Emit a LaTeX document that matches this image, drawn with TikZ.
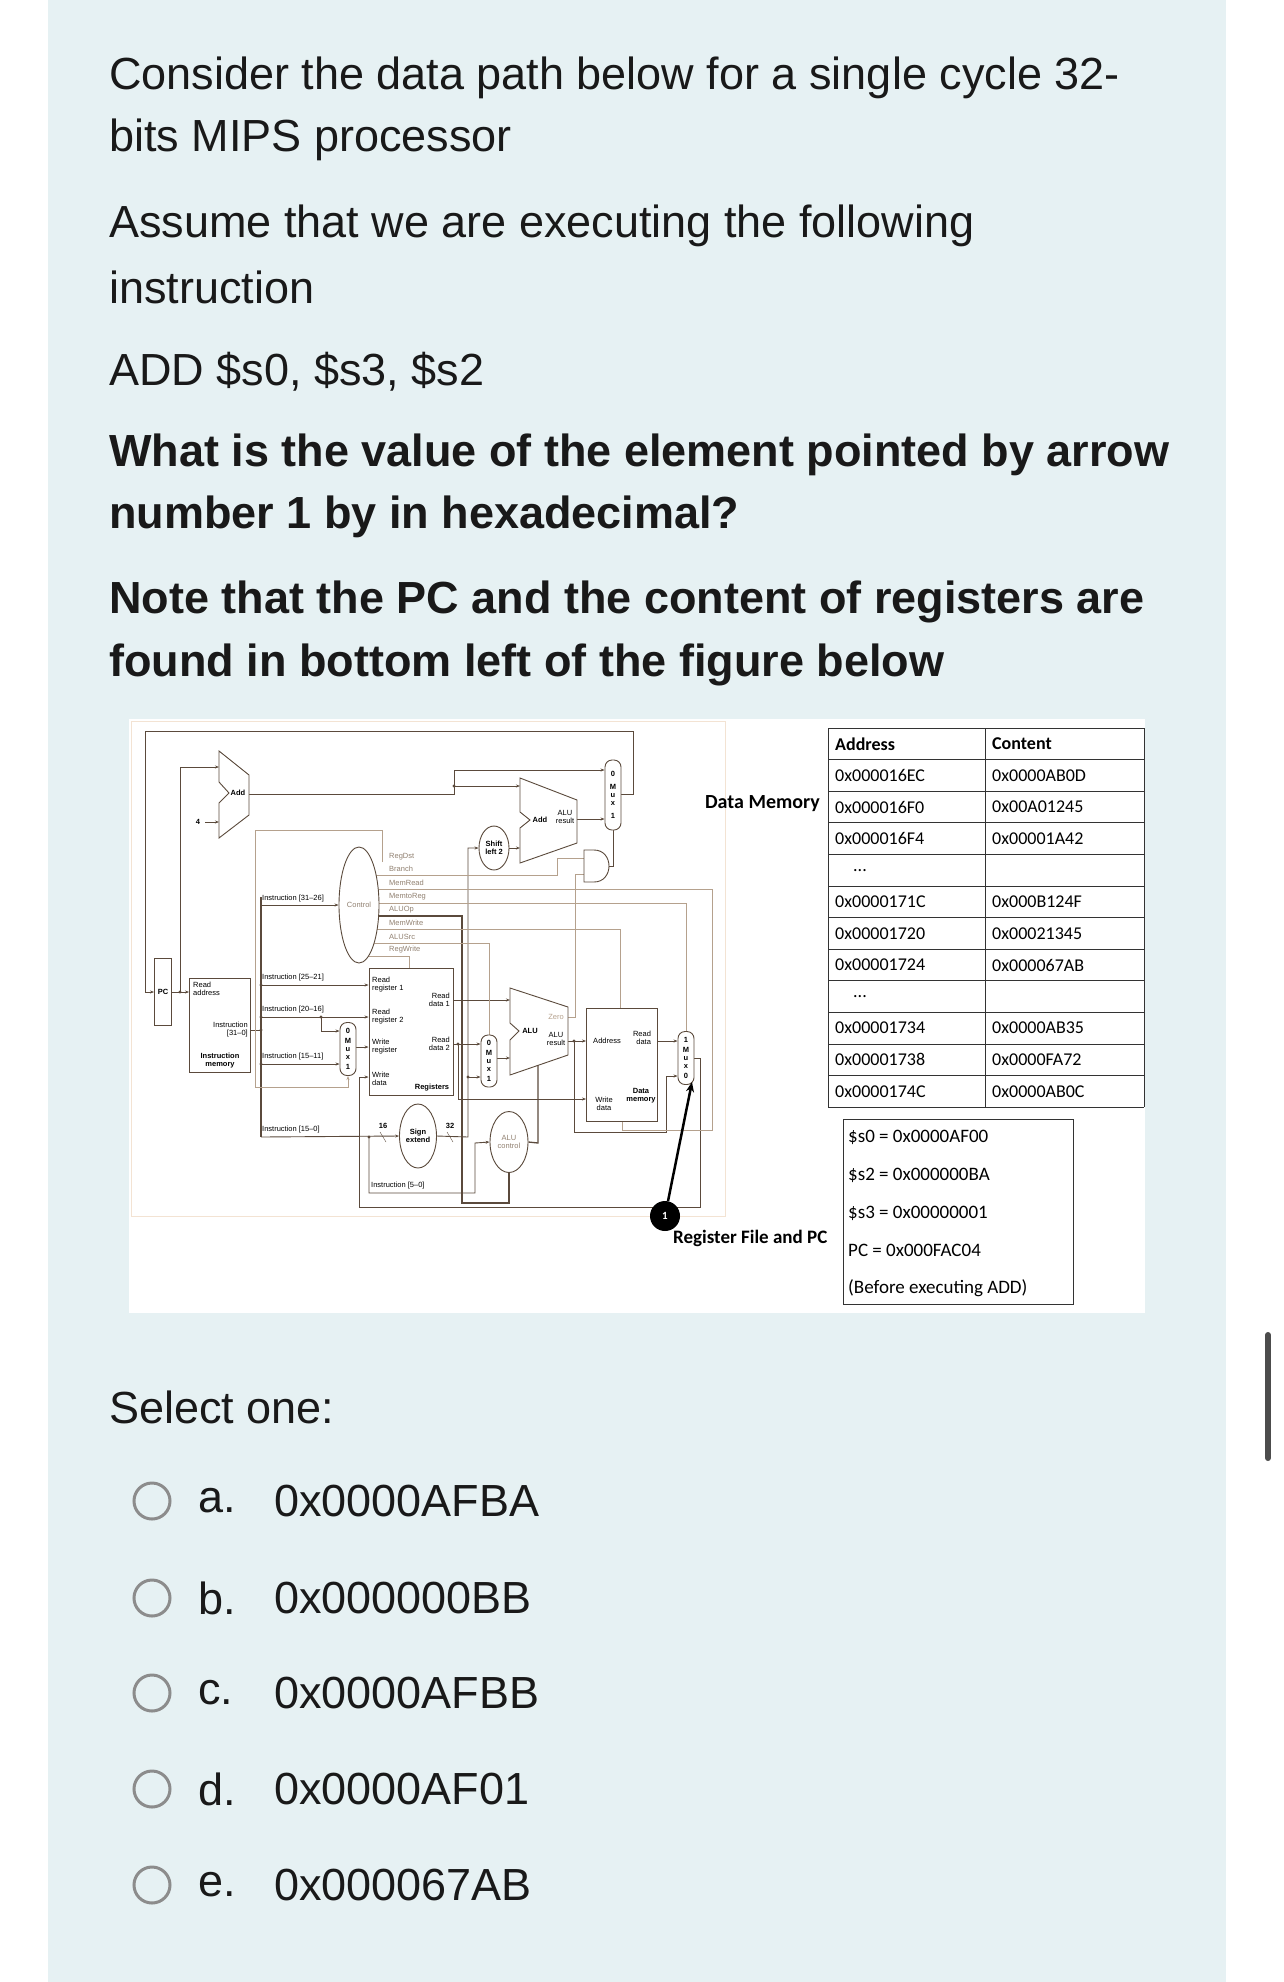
\documentclass[tikz,border=0pt]{standalone}
\usepackage{fontspec}
\setmainfont{Liberation Sans}
\newfontfamily\tabfont{Carlito}
\usetikzlibrary{arrows.meta,backgrounds,shapes.geometric}
\definecolor{panel}{HTML}{E6F1F3}
\definecolor{wirec}{HTML}{5B4A3C}
\definecolor{ctlc}{HTML}{B5A18D}
\definecolor{framec}{HTML}{F3E3D3}
\newcommand{\dpfont}{\fontsize{7.5}{8}\selectfont}
\newcommand{\bigfont}{\fontsize{45}{54}\selectfont}
\tikzset{
  wire/.style={draw=wirec, line width=0.9pt},
  ctl/.style={draw=ctlc, line width=0.9pt},
  arr/.style={-{Stealth[length=4pt,width=3pt]}},
  jdot/.style={circle, fill=wirec, inner sep=1.2pt},
  unit/.style={draw=wirec, line width=0.9pt, fill=white},
  mux/.style={draw=wirec, line width=0.9pt, fill=white, rounded corners=7pt,
    minimum width=16pt, inner sep=0pt, font=\dpfont\bfseries, align=center},
  lbl/.style={font=\dpfont, inner sep=0pt, align=left},
  ctllbl/.style={font=\dpfont, text=ctlc!80!black, inner sep=0pt, anchor=west},
  qtext/.style={font=\bigfont, anchor=west, inner sep=0pt, text=black!90},
  cell/.style={font=\tabfont\fontsize{18}{20}\selectfont, anchor=west, inner sep=0pt},
  radio/.style={circle, draw=black!45, line width=3pt, minimum size=36pt, inner sep=0pt}
}
\begin{document}
\begin{tikzpicture}[x=1pt, y=-1pt]
\useasboundingbox (0,0) rectangle (1284,1982);
\begin{scope}[on background layer]
\fill[panel] (48,0) rectangle (1226,1982);
\fill[white] (129,719) rectangle (1145,1313);
\draw[framec, line width=1pt] (131,721) rectangle (725,1216);
\end{scope}
% scroll bar
\draw[black!70, line width=6pt, line cap=round] (1268,1335) -- (1268,1458);

% question text
\node[qtext] (q1) at (109,78) {Consider the data path below for a single cycle 32-};
\node[qtext] (q2) at (109,140) {bits MIPS processor};
\node[qtext] (q3) at (109,226) {Assume that we are executing the following};
\node[qtext] (q4) at (109,287) {instruction};
\node[qtext] (q5) at (109,372) {ADD \$s0, \$s3, \$s2};
\node[qtext, font=\bigfont\bfseries] (q6) at (109,455) {What is the value of the element pointed by arrow};
\node[qtext, font=\bigfont\bfseries] (q7) at (109,517) {number 1 by in hexadecimal?};
\node[qtext, font=\bigfont\bfseries] (q8) at (109,602) {Note that the PC and the content of registers are};
\node[qtext, font=\bigfont\bfseries] (q9) at (109,665) {found in bottom left of the figure below};

% ---- datapath units
\node[unit, minimum width=17pt, minimum height=67pt] (pc) at (163,992) {};
\node[lbl, font=\dpfont\bfseries] at (pc) {PC};
\node[unit, minimum width=61pt, minimum height=94pt] (imem) at (220,1025) {};
\node[lbl, anchor=north west] at (193,982) {Read\\address};
\node[lbl, anchor=east, align=right] at (248,1030) {Instruction\\{}[31--0]};
\node[lbl, font=\dpfont\bfseries, align=center] at (220,1061) {Instruction\\memory};
\node[unit, minimum width=84pt, minimum height=127pt] (regs) at (411,1032) {};
\node[lbl, anchor=west] at (372,985) {Read\\register 1};
\node[lbl, anchor=west] at (372,1017) {Read\\register 2};
\node[lbl, anchor=west] at (372,1047) {Write\\register};
\node[lbl, anchor=west] at (372,1079) {Write\\data};
\node[lbl, anchor=east, align=right] at (450,1000) {Read\\data 1};
\node[lbl, anchor=east, align=right] at (450,1044) {Read\\data 2};
\node[lbl, font=\dpfont\bfseries] at (432,1088) {Registers};
\node[unit, minimum width=71pt, minimum height=113pt] (dmem) at (622,1065) {};
\node[lbl] at (607,1041) {Address};
\node[lbl, align=right] at (642,1038) {Read\\data};
\node[lbl, align=center] at (604,1104) {Write\\data};
\node[lbl, font=\dpfont\bfseries, align=center] at (641,1096) {Data\\memory};

% adders and ALU
\draw[unit] (219,751) -- (249,775) -- (249,815) -- (219,838) -- (219,803) -- (229,793) -- (219,782) -- cycle;
\node[lbl, font=\dpfont\bfseries] (addpc) at (238,793) {Add};
\draw[unit] (520,778) -- (577,800) -- (577,843) -- (520,863) -- (520,828) -- (530,820) -- (520,812) -- cycle;
\node[lbl, font=\dpfont\bfseries] (addbr) at (540,820) {Add};
\node[lbl, align=center] at (565,817) {ALU\\result};
\draw[unit] (510,988) -- (568,1007) -- (568,1055) -- (510,1075) -- (510,1040) -- (519,1031) -- (510,1023) -- cycle;
\node[lbl, font=\dpfont\bfseries] (alu) at (530,1031) {ALU};
\node[lbl, align=center] at (556,1039) {ALU\\result};
\node[lbl, text=ctlc] at (556,1017) {Zero};
\draw[unit] (584,850) -- (594,850) .. controls (614,850) and (614,882) .. (594,882) -- (584,882) -- cycle;

% ellipses
\node[unit, ellipse, minimum width=40pt, minimum height=116pt, inner sep=0pt] (ctrl) at (359,905) {};
\node[lbl, text=ctlc!80!black] at (ctrl) {Control};
\node[unit, ellipse, minimum width=30pt, minimum height=44pt, inner sep=0pt, font=\dpfont\bfseries, align=center] (shl) at (494,848) {Shift\\left 2};
\node[unit, ellipse, minimum width=37pt, minimum height=64pt, inner sep=0pt, font=\dpfont\bfseries, align=center] (sext) at (418,1136) {Sign\\extend};
\node[unit, ellipse, minimum width=38pt, minimum height=61pt, inner sep=0pt, font=\dpfont, text=ctlc!80!black, align=center] (aluc) at (509,1142) {ALU\\control};

% muxes
\node[mux, minimum height=70pt] (muxpc) at (613,795) {0\\[5pt]M\\u\\x\\[5pt]1};
\node[mux, minimum height=53pt] (muxreg) at (348,1049) {0\\[2pt]M\\u\\x\\[2pt]1};
\node[mux, minimum height=52pt] (muxalu) at (489,1061) {0\\[2pt]M\\u\\x\\[2pt]1};
\node[mux, minimum height=53pt] (muxmem) at (686,1058) {1\\[2pt]M\\u\\x\\[2pt]0};

% control labels
\foreach \t/\yy in {RegDst/857, Branch/869, MemRead/883, MemtoReg/897, ALUOp/910, MemWrite/923, ALUSrc/937, RegWrite/950}
  \node[ctllbl] at (389,\yy) {\t};

\begin{scope}[on background layer]
% main wires
\draw[wire, arr] (pc.east |- 0,992) -- (imem.west |- 0,992);
\draw[wire, arr] (180,992) -- (180,767) -- (219,767);
\draw[wire, arr] (621,794) -- (633,794) -- (633,731) -- (145,731) -- (145,992) -- (pc.west |- 0,992);
\draw[wire, arr] (205,822) -- (219,822);
\draw[wire, arr] (249,794) -- (454,794) -- (454,770) -- (muxpc.west |- 0,770);
\draw[wire, arr] (454,786) -- (520,786);
\draw[wire, arr] (577,819) -- (muxpc.west |- 0,819);
\draw[wire, arr] (shl.east) -- (520,848);
\draw[wire] (609,866) -| (muxpc.south);
\draw[wire] (imem.east |- 0,1030) -- (261,1030);
\draw[wire, line width=1.3pt] (261,897) -- (261,1137);
\draw[wire, arr] (261,905) -- (ctrl.west);
\draw[wire, arr] (261,985) -- (regs.west |- 0,985);
\draw[wire, arr] (261,1017) -- (regs.west |- 0,1017);
\draw[wire, arr] (321,1017) -- (321,1031) -- (muxreg.west |- 0,1031);
\draw[wire, arr] (261,1064) -- (muxreg.west |- 0,1064);
\draw[wire, arr] (muxreg.east |- 0,1047) -- (regs.west |- 0,1047);
\draw[wire, arr] (261,1137) -- (sext.west);
\draw[wire, arr] (regs.east |- 0,1000) -- (510,1000);
\draw[wire, arr] (regs.east |- 0,1044) -- (muxalu.west |- 0,1044);
\draw[wire, arr] (458,1044) -- (458,1099) -- (dmem.west |- 0,1099);
\draw[wire, arr] (muxalu.east |- 0,1058) -- (510,1058);
\draw[wire, arr] (sext.east) -- (468,1137) -- (468,848) -- (shl.west);
\draw[wire, arr] (468,1077) -- (muxalu.west |- 0,1077);
\draw[wire, arr] (568,1041) -- (dmem.west |- 0,1041);
\draw[wire, arr] (574,1041) -- (574,1132) -- (666,1132) -- (666,1076) -- (muxmem.west |- 0,1076);
\draw[wire, arr] (dmem.east |- 0,1041) -- (muxmem.west |- 0,1041);
\draw[wire, arr] (muxmem.east) -- (700,1058) -- (700,1207) -- (359,1207) -- (359,1077) -- (regs.west |- 0,1077);
\draw[wire, arr] (369,1137) -- (369,1193) -- (475,1193) -- (475,1143) -- (aluc.west);
\draw[wire, line width=1.6pt] (ctrl.center |- 0,916) -- (462,916) -- (462,1203) -- (509,1203) -- (aluc.south);
\draw[wire, line width=1.3pt] (aluc.east) -- (538,1143) -- (538,1065);
% control wires
\draw[ctl, arr] (382,862) -- (382,830) -- (255,830) -- (255,1087) -- (348,1087) -- (muxreg.south);
\draw[ctl] (ctrl.center |- 0,875) -- (557,875) -- (557,858) -- (584,858);
\draw[ctl] (568,1017) -- (575,1017) -- (575,874) -- (584,874);
\draw[ctl] (ctrl.center |- 0,889) -- (712,889) -- (712,1130) -- (622,1130) -- (dmem.south);
\draw[ctl] (ctrl.center |- 0,903) -- (686,903) -- (muxmem.north);
\draw[ctl] (ctrl.center |- 0,929) -- (620,929) -- (620,1009);
\draw[ctl] (ctrl.center |- 0,943) -- (489,943) -- (muxalu.north);
\draw[ctl] (ctrl.center |- 0,956) -- (409,956) -- (409,968);
\end{scope}
\foreach \p in {(180,992),(261,985),(261,1017),(261,1030),(261,1064),(321,1017),(369,1137),(454,786),(458,1044),(468,1077),(574,1041)}
  \node[jdot] at \p {};

% bus labels
\node[lbl, anchor=south west] at (262,902) {Instruction [31--26]};
\node[lbl, anchor=south west] at (262,981) {Instruction [25--21]};
\node[lbl, anchor=south west] at (262,1013) {Instruction [20--16]};
\node[lbl, anchor=south west] at (262,1060) {Instruction [15--11]};
\node[lbl, anchor=south west] at (262,1133) {Instruction [15--0]};
\node[lbl, anchor=south west] at (371,1189) {Instruction [5--0]};
\node[lbl, font=\dpfont\bfseries] at (198,822) {4};
\node[lbl, font=\dpfont\bfseries] at (383,1126) {16};
\node[lbl, font=\dpfont\bfseries] at (450,1126) {32};
\draw[wirec] (380,1132) -- (386,1142);
\draw[wirec] (447,1132) -- (453,1142);

% data memory table
\foreach \k in {0,...,12}
  \draw[black!80, line width=0.8pt] (828,728+31.6*\k) -- (1144,728+31.6*\k);
\draw[black!80, line width=0.8pt] (828,728) -- (828,1107.2) (985,728) -- (985,1107.2) (1144,728) -- (1144,1107.2);
\foreach \a/\c [count=\k from 0] in {{\bfseries Address}/{\bfseries Content}, 0x000016EC/0x0000AB0D, 0x000016F0/0x00A01245, 0x000016F4/0x00001A42, {\quad ...}/{}, 0x0000171C/0x000B124F, 0x00001720/0x00021345, 0x00001724/0x000067AB, {\quad ...}/{}, 0x00001734/0x0000AB35, 0x00001738/0x0000FA72, 0x0000174C/0x0000AB0C}
  {\node[cell] at (835,743.8+31.6*\k) {\a};
   \node[cell] at (992,743.8+31.6*\k) {\c};}
\node[cell, font=\tabfont\bfseries\fontsize{20}{22}\selectfont, anchor=east] (dmlbl) at (820,804) {Data Memory};

% register file
\draw[black!80, line width=0.8pt] (843,1119) rectangle (1073,1304);
\foreach \t/\yy in {\$s0 = 0x0000AF00/1137, \$s2 = 0x000000BA/1175, \$s3 = 0x00000001/1213, PC = 0x000FAC04/1250, (Before executing ADD)/1288}
  \node[cell, font=\tabfont\fontsize{19}{21}\selectfont] at (848,\yy) {\t};
\node[cell, font=\tabfont\bfseries\fontsize{19}{21}\selectfont] (rflbl) at (673,1238) {Register File and PC};
\node[circle, fill=black, minimum size=30pt, inner sep=0pt, text=white, font=\tabfont\bfseries\fontsize{11}{12}\selectfont] (one) at (665,1216) {1};
\coordinate (tip) at (692,1082);
\draw[line width=2.5pt, -{Stealth[length=10pt,width=8pt]}] (one) -- (tip);

% answers
\node[qtext] (sel) at (109,1407) {Select one:};
\foreach \l/\v/\yy in {a./0x0000AFBA/1501, b./0x000000BB/1598, c./0x0000AFBB/1693, d./0x0000AF01/1789, e./0x000067AB/1885}
  {\node[radio] at (152,\yy) {};
   \node[qtext] at (198,\yy) {\l};
   \node[qtext] at (274,\yy) {\v};}
\end{tikzpicture}
\end{document}
